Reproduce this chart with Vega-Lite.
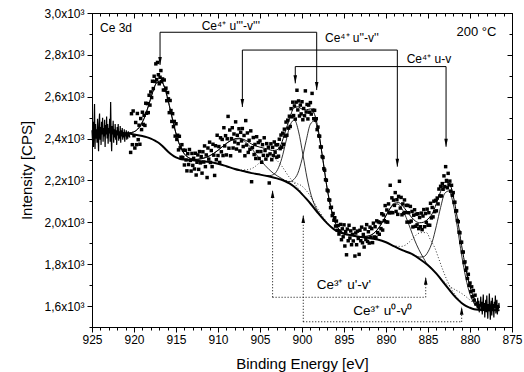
{
"$schema": "https://vega.github.io/schema/vega-lite/v6.json",
"width": 420, "height": 314,
"autosize": {"type": "none"},
"padding": {"left": 92, "top": 13, "right": 12, "bottom": 45},
"background": "white",
"datasets": {
"bg": [{"e":925,"i":2430},{"e":924,"i":2430},{"e":923,"i":2429},{"e":922,"i":2428},{"e":921,"i":2425},{"e":920,"i":2420},{"e":919,"i":2412},{"e":918.5,"i":2407},{"e":918,"i":2400},{"e":917.5,"i":2390},{"e":917,"i":2378},{"e":916.5,"i":2360},{"e":916,"i":2340},{"e":915.5,"i":2323},{"e":915,"i":2310},{"e":914.5,"i":2303},{"e":914,"i":2300},{"e":913,"i":2296},{"e":912,"i":2292},{"e":911,"i":2288},{"e":910,"i":2280},{"e":909,"i":2268},{"e":908,"i":2255},{"e":907,"i":2245},{"e":906,"i":2235},{"e":905,"i":2228},{"e":904,"i":2220},{"e":903,"i":2210},{"e":902,"i":2196},{"e":901.5,"i":2186},{"e":901,"i":2172},{"e":900.5,"i":2155},{"e":900,"i":2135},{"e":899.5,"i":2113},{"e":899,"i":2090},{"e":898,"i":2040},{"e":897,"i":1995},{"e":896.5,"i":1977},{"e":896,"i":1962},{"e":895.5,"i":1952},{"e":895,"i":1945},{"e":894,"i":1937},{"e":893,"i":1930},{"e":892,"i":1925},{"e":891,"i":1918},{"e":890,"i":1905},{"e":889,"i":1885},{"e":888,"i":1866},{"e":887,"i":1850},{"e":886,"i":1825},{"e":885,"i":1795},{"e":884,"i":1755},{"e":883,"i":1705},{"e":882,"i":1655},{"e":881.5,"i":1633},{"e":881,"i":1615},{"e":880.5,"i":1601},{"e":880,"i":1592},{"e":879.5,"i":1585},{"e":879,"i":1582},{"e":878,"i":1580},{"e":877,"i":1580},{"e":876.5,"i":1580}],
"env": [{"e":925,"i":2430},{"e":923,"i":2429},{"e":921.3,"i":2426},{"e":920.8,"i":2427},{"e":920.3,"i":2429},{"e":919.8,"i":2437},{"e":919.3,"i":2458},{"e":918.8,"i":2496},{"e":918.3,"i":2554},{"e":917.8,"i":2619},{"e":917.3,"i":2667},{"e":916.8,"i":2675},{"e":916.3,"i":2637},{"e":915.8,"i":2559},{"e":915.3,"i":2472},{"e":914.8,"i":2396},{"e":914.3,"i":2346},{"e":913.8,"i":2318},{"e":913.3,"i":2306},{"e":912.8,"i":2300},{"e":912,"i":2304},{"e":911,"i":2318},{"e":910,"i":2344},{"e":909,"i":2377},{"e":908,"i":2399},{"e":907.5,"i":2402},{"e":907,"i":2397},{"e":906.5,"i":2387},{"e":906,"i":2374},{"e":905.5,"i":2365},{"e":905,"i":2359},{"e":904.5,"i":2354},{"e":904,"i":2349},{"e":903.5,"i":2343},{"e":903,"i":2346},{"e":902.5,"i":2372},{"e":902,"i":2432},{"e":901.5,"i":2492},{"e":901,"i":2545},{"e":900.5,"i":2552},{"e":900,"i":2541},{"e":899.5,"i":2537},{"e":899,"i":2542},{"e":898.5,"i":2515},{"e":898,"i":2428},{"e":897.5,"i":2295},{"e":897,"i":2160},{"e":896.5,"i":2060},{"e":896,"i":1994},{"e":895.5,"i":1963},{"e":895,"i":1948},{"e":894.5,"i":1942},{"e":894,"i":1937},{"e":893.5,"i":1933},{"e":893,"i":1932},{"e":892.5,"i":1933},{"e":892,"i":1936},{"e":891.5,"i":1946},{"e":891,"i":1966},{"e":890.5,"i":1996},{"e":890,"i":2032},{"e":889.5,"i":2067},{"e":889,"i":2091},{"e":888.5,"i":2094},{"e":888,"i":2078},{"e":887.5,"i":2051},{"e":887,"i":2026},{"e":886.5,"i":2006},{"e":886,"i":1998},{"e":885.5,"i":2001},{"e":885,"i":2016},{"e":884.5,"i":2041},{"e":884,"i":2090},{"e":883.5,"i":2147},{"e":883,"i":2191},{"e":882.5,"i":2189},{"e":882,"i":2127},{"e":881.5,"i":2019},{"e":881,"i":1890},{"e":880.5,"i":1779},{"e":880,"i":1692},{"e":879.5,"i":1638},{"e":879,"i":1606},{"e":878.5,"i":1591},{"e":878,"i":1584},{"e":877.5,"i":1581},{"e":877,"i":1580},{"e":876.5,"i":1580}],
"c4": [
{"c":"u3","e":920.8,"i":2427},{"c":"u3","e":920.3,"i":2429},{"c":"u3","e":919.8,"i":2437},{"c":"u3","e":919.3,"i":2458},{"c":"u3","e":918.8,"i":2496},{"c":"u3","e":918.3,"i":2554},{"c":"u3","e":917.8,"i":2619},{"c":"u3","e":917.3,"i":2667},{"c":"u3","e":916.8,"i":2675},{"c":"u3","e":916.3,"i":2637},{"c":"u3","e":915.8,"i":2559},{"c":"u3","e":915.3,"i":2472},{"c":"u3","e":914.8,"i":2396},{"c":"u3","e":914.3,"i":2346},{"c":"u3","e":913.8,"i":2318},{"c":"u3","e":913.3,"i":2304},{"c":"u3","e":912.8,"i":2297},
{"c":"u2","e":913.4,"i":2300},{"c":"u2","e":912.4,"i":2301},{"c":"u2","e":911.4,"i":2310},{"c":"u2","e":910.4,"i":2332},{"c":"u2","e":909.4,"i":2364},{"c":"u2","e":908.4,"i":2392},{"c":"u2","e":907.4,"i":2399},{"c":"u2","e":906.4,"i":2371},{"c":"u2","e":905.4,"i":2322},{"c":"u2","e":904.4,"i":2272},{"c":"u2","e":903.4,"i":2234},{"c":"u2","e":902.4,"i":2209},{"c":"u2","e":901.4,"i":2184},
{"c":"u1","e":904.4,"i":2224},{"c":"u1","e":903.9,"i":2223},{"c":"u1","e":903.4,"i":2228},{"c":"u1","e":902.9,"i":2252},{"c":"u1","e":902.4,"i":2306},{"c":"u1","e":901.9,"i":2388},{"c":"u1","e":901.4,"i":2466},{"c":"u1","e":900.9,"i":2489},{"c":"u1","e":900.4,"i":2432},{"c":"u1","e":899.9,"i":2325},{"c":"u1","e":899.4,"i":2212},{"c":"u1","e":898.9,"i":2128},{"c":"u1","e":898.4,"i":2074},{"c":"u1","e":897.9,"i":2040},{"c":"u1","e":897.4,"i":2014},
{"c":"v3","e":902.5,"i":2204},{"c":"v3","e":902,"i":2199},{"c":"v3","e":901.5,"i":2194},{"c":"v3","e":901,"i":2204},{"c":"v3","e":900.5,"i":2234},{"c":"v3","e":900,"i":2301},{"c":"v3","e":899.5,"i":2391},{"c":"v3","e":899,"i":2469},{"c":"v3","e":898.5,"i":2485},{"c":"v3","e":898,"i":2419},{"c":"v3","e":897.5,"i":2296},{"c":"v3","e":897,"i":2161},{"c":"v3","e":896.5,"i":2058},{"c":"v3","e":896,"i":1994},{"c":"v3","e":895.5,"i":1963},{"c":"v3","e":895,"i":1948},{"c":"v3","e":894.5,"i":1942},
{"c":"v2","e":892.6,"i":1932},{"c":"v2","e":892.1,"i":1934},{"c":"v2","e":891.6,"i":1943},{"c":"v2","e":891.1,"i":1962},{"c":"v2","e":890.6,"i":1989},{"c":"v2","e":890.1,"i":2024},{"c":"v2","e":889.6,"i":2060},{"c":"v2","e":889.1,"i":2084},{"c":"v2","e":888.6,"i":2087},{"c":"v2","e":888.1,"i":2065},{"c":"v2","e":887.6,"i":2023},{"c":"v2","e":887.1,"i":1970},{"c":"v2","e":886.6,"i":1916},{"c":"v2","e":886.1,"i":1871},{"c":"v2","e":885.6,"i":1834},{"c":"v2","e":885.1,"i":1801},{"c":"v2","e":884.6,"i":1783},
{"c":"v1","e":886.5,"i":1841},{"c":"v1","e":886,"i":1834},{"c":"v1","e":885.5,"i":1836},{"c":"v1","e":885,"i":1859},{"c":"v1","e":884.5,"i":1906},{"c":"v1","e":884,"i":1984},{"c":"v1","e":883.5,"i":2071},{"c":"v1","e":883,"i":2139},{"c":"v1","e":882.5,"i":2150},{"c":"v1","e":882,"i":2089},{"c":"v1","e":881.5,"i":1976},{"c":"v1","e":881,"i":1844},{"c":"v1","e":880.5,"i":1734},{"c":"v1","e":880,"i":1656},{"c":"v1","e":879.5,"i":1613},{"c":"v1","e":879,"i":1591},{"c":"v1","e":878.5,"i":1584}],
"c3": [
{"c":"up","e":907.6,"i":2253},{"c":"up","e":907.1,"i":2250},{"c":"up","e":906.6,"i":2251},{"c":"up","e":906.1,"i":2255},{"c":"up","e":905.6,"i":2266},{"c":"up","e":905.1,"i":2283},{"c":"up","e":904.6,"i":2299},{"c":"up","e":904.1,"i":2310},{"c":"up","e":903.6,"i":2311},{"c":"up","e":903.1,"i":2300},{"c":"up","e":902.6,"i":2279},{"c":"up","e":902.1,"i":2251},{"c":"up","e":901.6,"i":2220},{"c":"up","e":901.1,"i":2196},{"c":"up","e":900.6,"i":2171},{"c":"up","e":900.1,"i":2143},{"c":"up","e":899.6,"i":2119},
{"c":"u0","e":902.6,"i":2207},{"c":"u0","e":902.1,"i":2202},{"c":"u0","e":901.6,"i":2196},{"c":"u0","e":901.1,"i":2194},{"c":"u0","e":900.6,"i":2185},{"c":"u0","e":900.1,"i":2176},{"c":"u0","e":899.6,"i":2157},{"c":"u0","e":899.1,"i":2131},{"c":"u0","e":898.6,"i":2098},{"c":"u0","e":898.1,"i":2063},{"c":"u0","e":897.6,"i":2032},{"c":"u0","e":897.1,"i":2004},{"c":"u0","e":896.6,"i":1983},
{"c":"vp","e":889.2,"i":1889},{"c":"vp","e":888.7,"i":1886},{"c":"vp","e":888.2,"i":1885},{"c":"vp","e":887.7,"i":1891},{"c":"vp","e":887.2,"i":1907},{"c":"vp","e":886.7,"i":1927},{"c":"vp","e":886.2,"i":1946},{"c":"vp","e":885.7,"i":1951},{"c":"vp","e":885.2,"i":1951},{"c":"vp","e":884.7,"i":1916},{"c":"vp","e":884.2,"i":1879},{"c":"vp","e":883.7,"i":1824},{"c":"vp","e":883.2,"i":1769},{"c":"vp","e":882.7,"i":1720},{"c":"vp","e":882.2,"i":1680},{"c":"vp","e":881.7,"i":1650},{"c":"vp","e":881.2,"i":1626},
{"c":"v0","e":883.8,"i":1747},{"c":"v0","e":883.3,"i":1725},{"c":"v0","e":882.8,"i":1706},{"c":"v0","e":882.3,"i":1691},{"c":"v0","e":881.8,"i":1679},{"c":"v0","e":881.3,"i":1668},{"c":"v0","e":880.8,"i":1655},{"c":"v0","e":880.3,"i":1639},{"c":"v0","e":879.8,"i":1622},{"c":"v0","e":879.3,"i":1606},{"c":"v0","e":878.8,"i":1593},{"c":"v0","e":878.3,"i":1586},{"c":"v0","e":877.8,"i":1582}],
"jag": [
{"s":"L","e":925,"i":2440},{"s":"L","e":924.94,"i":2390},{"s":"L","e":924.88,"i":2480},{"s":"L","e":924.82,"i":2360},{"s":"L","e":924.76,"i":2455},{"s":"L","e":924.7,"i":2565},{"s":"L","e":924.64,"i":2350},{"s":"L","e":924.58,"i":2470},{"s":"L","e":924.52,"i":2400},{"s":"L","e":924.46,"i":2445},{"s":"L","e":924.4,"i":2380},{"s":"L","e":924.34,"i":2495},{"s":"L","e":924.28,"i":2410},{"s":"L","e":924.22,"i":2340},{"s":"L","e":924.16,"i":2470},{"s":"L","e":924.1,"i":2520},{"s":"L","e":924.04,"i":2395},{"s":"L","e":923.98,"i":2455},{"s":"L","e":923.92,"i":2370},{"s":"L","e":923.86,"i":2480},{"s":"L","e":923.8,"i":2420},{"s":"L","e":923.74,"i":2500},{"s":"L","e":923.68,"i":2385},{"s":"L","e":923.62,"i":2450},{"s":"L","e":923.56,"i":2410},{"s":"L","e":923.5,"i":2490},{"s":"L","e":923.44,"i":2360},{"s":"L","e":923.38,"i":2465},{"s":"L","e":923.32,"i":2420},{"s":"L","e":923.26,"i":2505},{"s":"L","e":923.2,"i":2400},{"s":"L","e":923.14,"i":2470},{"s":"L","e":923.08,"i":2375},{"s":"L","e":923.02,"i":2450},{"s":"L","e":922.96,"i":2430},{"s":"L","e":922.9,"i":2495},{"s":"L","e":922.84,"i":2385},{"s":"L","e":922.78,"i":2575},{"s":"L","e":922.72,"i":2410},{"s":"L","e":922.66,"i":2340},{"s":"L","e":922.6,"i":2460},{"s":"L","e":922.54,"i":2420},{"s":"L","e":922.48,"i":2485},{"s":"L","e":922.42,"i":2380},{"s":"L","e":922.36,"i":2445},{"s":"L","e":922.3,"i":2405},{"s":"L","e":922.24,"i":2470},{"s":"L","e":922.18,"i":2395},{"s":"L","e":922.12,"i":2440},{"s":"L","e":922.06,"i":2370},{"s":"L","e":922,"i":2455},{"s":"L","e":921.94,"i":2415},{"s":"L","e":921.88,"i":2470},{"s":"L","e":921.82,"i":2390},{"s":"L","e":921.76,"i":2435},{"s":"L","e":921.7,"i":2400},{"s":"L","e":921.64,"i":2460},{"s":"L","e":921.58,"i":2380},{"s":"L","e":921.52,"i":2440},{"s":"L","e":921.46,"i":2410},{"s":"L","e":921.4,"i":2450},{"s":"L","e":921.34,"i":2395},{"s":"L","e":921.28,"i":2430},{"s":"L","e":921.22,"i":2405},{"s":"L","e":921.16,"i":2445},{"s":"L","e":921.1,"i":2385},{"s":"L","e":921.04,"i":2425},{"s":"L","e":920.98,"i":2410},{"s":"L","e":920.92,"i":2440},{"s":"L","e":920.86,"i":2395},{"s":"L","e":920.8,"i":2425},{"s":"L","e":920.74,"i":2400},{"s":"L","e":920.68,"i":2435},{"s":"L","e":920.62,"i":2410},{"s":"L","e":920.56,"i":2420},{"s":"L","e":920.5,"i":2405},
{"s":"R","e":879.2,"i":1618},{"s":"R","e":879.14,"i":1590},{"s":"R","e":879.08,"i":1640},{"s":"R","e":879.02,"i":1585},{"s":"R","e":878.96,"i":1625},{"s":"R","e":878.9,"i":1570},{"s":"R","e":878.84,"i":1610},{"s":"R","e":878.78,"i":1598},{"s":"R","e":878.72,"i":1645},{"s":"R","e":878.66,"i":1575},{"s":"R","e":878.6,"i":1620},{"s":"R","e":878.54,"i":1560},{"s":"R","e":878.48,"i":1600},{"s":"R","e":878.42,"i":1655},{"s":"R","e":878.36,"i":1580},{"s":"R","e":878.3,"i":1615},{"s":"R","e":878.24,"i":1545},{"s":"R","e":878.18,"i":1605},{"s":"R","e":878.12,"i":1630},{"s":"R","e":878.06,"i":1570},{"s":"R","e":878,"i":1650},{"s":"R","e":877.94,"i":1585},{"s":"R","e":877.88,"i":1540},{"s":"R","e":877.82,"i":1610},{"s":"R","e":877.76,"i":1575},{"s":"R","e":877.7,"i":1660},{"s":"R","e":877.64,"i":1595},{"s":"R","e":877.58,"i":1535},{"s":"R","e":877.52,"i":1600},{"s":"R","e":877.46,"i":1625},{"s":"R","e":877.4,"i":1555},{"s":"R","e":877.34,"i":1640},{"s":"R","e":877.28,"i":1580},{"s":"R","e":877.22,"i":1610},{"s":"R","e":877.16,"i":1545},{"s":"R","e":877.1,"i":1620},{"s":"R","e":877.04,"i":1590},{"s":"R","e":876.98,"i":1650},{"s":"R","e":876.92,"i":1565},{"s":"R","e":876.86,"i":1600},{"s":"R","e":876.8,"i":1630},{"s":"R","e":876.74,"i":1560},{"s":"R","e":876.68,"i":1605},{"s":"R","e":876.62,"i":1585},{"s":"R","e":876.56,"i":1615},{"s":"R","e":876.5,"i":1590}],
"pts": [
{"e":920.4,"i":2334},{"e":920.3,"i":2519},{"e":920.2,"i":2371},{"e":920.1,"i":2532},{"e":920.0,"i":2414},{"e":919.9,"i":2355},{"e":919.8,"i":2477},{"e":919.7,"i":2371},{"e":919.6,"i":2520},{"e":919.5,"i":2395},{"e":919.4,"i":2464},{"e":919.3,"i":2373},{"e":919.2,"i":2496},{"e":919.1,"i":2443},{"e":919.0,"i":2526},{"e":918.9,"i":2468},{"e":918.8,"i":2511},{"e":918.7,"i":2463},{"e":918.6,"i":2569},{"e":918.5,"i":2521},{"e":918.4,"i":2567},{"e":918.3,"i":2524},{"e":918.2,"i":2607},{"e":918.1,"i":2560},{"e":918.0,"i":2623},{"e":917.9,"i":2596},{"e":917.8,"i":2674},{"e":917.7,"i":2639},{"e":917.6,"i":2698},{"e":917.5,"i":2673},{"e":917.4,"i":2757},{"e":917.3,"i":2682},{"e":917.2,"i":2764},{"e":917.1,"i":2705},{"e":917.0,"i":2662},{"e":916.9,"i":2693},{"e":916.8,"i":2725},{"e":916.7,"i":2672},{"e":916.6,"i":2685},{"e":916.5,"i":2632},{"e":916.4,"i":2680},{"e":916.3,"i":2632},{"e":916.2,"i":2641},{"e":916.1,"i":2581},{"e":916.0,"i":2620},{"e":915.9,"i":2590},{"e":915.8,"i":2524},{"e":915.7,"i":2582},{"e":915.6,"i":2534},{"e":915.5,"i":2482},{"e":915.4,"i":2519},{"e":915.3,"i":2457},{"e":915.2,"i":2482},{"e":915.1,"i":2412},{"e":915.0,"i":2471},{"e":914.9,"i":2396},{"e":914.8,"i":2416},{"e":914.7,"i":2346},{"e":914.6,"i":2411},{"e":914.5,"i":2356},{"e":914.4,"i":2311},{"e":914.3,"i":2371},{"e":914.2,"i":2310},{"e":914.1,"i":2345},{"e":914.0,"i":2274},{"e":913.9,"i":2344},{"e":913.8,"i":2298},{"e":913.7,"i":2246},{"e":913.6,"i":2328},{"e":913.5,"i":2276},{"e":913.4,"i":2348},{"e":913.3,"i":2296},{"e":913.2,"i":2245},{"e":913.1,"i":2329},{"e":913.0,"i":2272},{"e":912.9,"i":2306},{"e":912.8,"i":2255},{"e":912.7,"i":2330},{"e":912.6,"i":2226},{"e":912.5,"i":2287},{"e":912.4,"i":2322},{"e":912.3,"i":2253},{"e":912.2,"i":2338},{"e":912.1,"i":2284},{"e":912.0,"i":2314},
{"e":911.9,"i":2235},{"e":911.8,"i":2337},{"e":911.7,"i":2288},{"e":911.6,"i":2365},{"e":911.5,"i":2266},{"e":911.4,"i":2322},{"e":911.3,"i":2214},{"e":911.2,"i":2355},{"e":911.1,"i":2302},{"e":911.0,"i":2383},{"e":910.9,"i":2286},{"e":910.8,"i":2343},{"e":910.7,"i":2266},{"e":910.6,"i":2373},{"e":910.5,"i":2321},{"e":910.4,"i":2224},{"e":910.3,"i":2366},{"e":910.2,"i":2299},{"e":910.1,"i":2416},{"e":910.0,"i":2319},{"e":909.9,"i":2362},{"e":909.8,"i":2286},{"e":909.7,"i":2404},{"e":909.6,"i":2337},{"e":909.5,"i":2396},{"e":909.4,"i":2319},{"e":909.3,"i":2452},{"e":909.2,"i":2365},{"e":909.1,"i":2414},{"e":909.0,"i":2322},{"e":908.9,"i":2399},{"e":908.8,"i":2506},{"e":908.7,"i":2354},{"e":908.6,"i":2441},{"e":908.5,"i":2318},{"e":908.4,"i":2400},{"e":908.3,"i":2452},{"e":908.2,"i":2355},{"e":908.1,"i":2422},{"e":908.0,"i":2384},{"e":907.9,"i":2480},{"e":907.8,"i":2350},{"e":907.7,"i":2416},{"e":907.6,"i":2376},{"e":907.5,"i":2447},{"e":907.4,"i":2341},{"e":907.3,"i":2430},{"e":907.2,"i":2389},{"e":907.1,"i":2448},{"e":907.0,"i":2362},{"e":906.9,"i":2415},{"e":906.8,"i":2318},{"e":906.7,"i":2486},{"e":906.6,"i":2369},{"e":906.5,"i":2427},{"e":906.4,"i":2334},{"e":906.3,"i":2392},{"e":906.2,"i":2349},{"e":906.1,"i":2437},{"e":906.0,"i":2194},{"e":905.9,"i":2357},{"e":905.8,"i":2405},{"e":905.7,"i":2324},{"e":905.6,"i":2372},{"e":905.5,"i":2305},{"e":905.4,"i":2409},{"e":905.3,"i":2338},{"e":905.2,"i":2381},{"e":905.1,"i":2305},{"e":905.0,"i":2389},{"e":904.9,"i":2338},{"e":904.8,"i":2287},{"e":904.7,"i":2371},{"e":904.6,"i":2320},{"e":904.5,"i":2404},{"e":904.4,"i":2343},{"e":904.3,"i":2302},{"e":904.2,"i":2376},{"e":904.1,"i":2320},{"e":904.0,"i":2359},{"e":903.9,"i":2188},{"e":903.8,"i":2327},{"e":903.7,"i":2375},{"e":903.6,"i":2299},{"e":903.5,"i":2358},{"e":903.4,"i":2319},{"e":903.3,"i":2384},{"e":903.2,"i":2335},{"e":903.1,"i":2370},{"e":903.0,"i":2311},
{"e":902.9,"i":2371},{"e":902.8,"i":2316},{"e":902.7,"i":2397},{"e":902.6,"i":2352},{"e":902.5,"i":2417},{"e":902.4,"i":2359},{"e":902.3,"i":2426},{"e":902.2,"i":2373},{"e":902.1,"i":2445},{"e":902.0,"i":2412},{"e":901.9,"i":2479},{"e":901.8,"i":2416},{"e":901.7,"i":2488},{"e":901.6,"i":2450},{"e":901.5,"i":2507},{"e":901.4,"i":2458},{"e":901.3,"i":2543},{"e":901.2,"i":2504},{"e":901.1,"i":2574},{"e":901.0,"i":2510},{"e":900.9,"i":2556},{"e":900.8,"i":2493},{"e":900.7,"i":2574},{"e":900.6,"i":2631},{"e":900.5,"i":2537},{"e":900.4,"i":2580},{"e":900.3,"i":2508},{"e":900.2,"i":2560},{"e":900.1,"i":2518},{"e":900.0,"i":2576},{"e":899.9,"i":2490},{"e":899.8,"i":2544},{"e":899.7,"i":2509},{"e":899.6,"i":2628},{"e":899.5,"i":2527},{"e":899.4,"i":2563},{"e":899.3,"i":2494},{"e":899.2,"i":2560},{"e":899.1,"i":2526},{"e":899.0,"i":2572},{"e":898.9,"i":2517},{"e":898.8,"i":2616},{"e":898.7,"i":2536},{"e":898.6,"i":2495},{"e":898.5,"i":2535},{"e":898.4,"i":2488},{"e":898.3,"i":2495},{"e":898.2,"i":2443},{"e":898.1,"i":2455},{"e":898.0,"i":2413},
{"e":897.9,"i":2411},{"e":897.8,"i":2360},{"e":897.7,"i":2360},{"e":897.6,"i":2314},{"e":897.5,"i":2310},{"e":897.4,"i":2256},{"e":897.3,"i":2249},{"e":897.2,"i":2204},{"e":897.1,"i":2201},{"e":897.0,"i":2154},{"e":896.9,"i":2150},{"e":896.8,"i":2108},{"e":896.7,"i":2106},{"e":896.6,"i":2070},{"e":896.5,"i":2072},{"e":896.4,"i":2032},{"e":896.3,"i":2042},{"e":896.2,"i":2010},{"e":896.1,"i":2022},{"e":896.0,"i":1982},{"e":895.9,"i":2006},{"e":895.8,"i":1962},{"e":895.7,"i":1985},{"e":895.6,"i":1944},
{"e":895.5,"i":1958},{"e":895.4,"i":1990},{"e":895.3,"i":1917},{"e":895.2,"i":1969},{"e":895.1,"i":1931},{"e":895.0,"i":1988},{"e":894.9,"i":1887},{"e":894.8,"i":1956},{"e":894.7,"i":1845},{"e":894.6,"i":1968},{"e":894.5,"i":1912},{"e":894.4,"i":1986},{"e":894.3,"i":1925},{"e":894.2,"i":1959},{"e":894.1,"i":1893},{"e":894.0,"i":1942},{"e":893.9,"i":1911},{"e":893.8,"i":1970},{"e":893.7,"i":1839},{"e":893.6,"i":1949},{"e":893.5,"i":1893},{"e":893.4,"i":1958},{"e":893.3,"i":1923},{"e":893.2,"i":1847},{"e":893.1,"i":1962},{"e":893.0,"i":1912},{"e":892.9,"i":1977},{"e":892.8,"i":1902},{"e":892.7,"i":1942},{"e":892.6,"i":1882},{"e":892.5,"i":1968},{"e":892.4,"i":1918},{"e":892.3,"i":1989},{"e":892.2,"i":1909},{"e":892.1,"i":1955},{"e":892.0,"i":1901},{"e":891.9,"i":1977},{"e":891.8,"i":1928},{"e":891.7,"i":1970},{"e":891.6,"i":1903},{"e":891.5,"i":1996},{"e":891.4,"i":1930},{"e":891.3,"i":1979},{"e":891.2,"i":1928},{"e":891.1,"i":2007},{"e":891.0,"i":1951},
{"e":890.9,"i":2002},{"e":890.8,"i":1943},{"e":890.7,"i":1999},{"e":890.6,"i":1970},{"e":890.5,"i":2041},{"e":890.4,"i":1963},{"e":890.3,"i":2035},{"e":890.2,"i":2008},{"e":890.1,"i":2080},{"e":890.0,"i":2002},{"e":889.9,"i":2059},{"e":889.8,"i":2001},{"e":889.7,"i":2088},{"e":889.6,"i":2045},{"e":889.5,"i":2177},{"e":889.4,"i":2047},{"e":889.3,"i":2117},{"e":889.2,"i":2046},{"e":889.1,"i":2106},{"e":889.0,"i":2081},{"e":888.9,"i":2142},{"e":888.8,"i":2052},{"e":888.7,"i":2108},{"e":888.6,"i":2038},{"e":888.5,"i":2124},{"e":888.4,"i":2196},{"e":888.3,"i":2068},{"e":888.2,"i":2119},{"e":888.1,"i":2036},{"e":888.0,"i":2088},{"e":887.9,"i":2043},{"e":887.8,"i":2107},{"e":887.7,"i":2047},{"e":887.6,"i":2081},{"e":887.5,"i":2001},{"e":887.4,"i":2081},{"e":887.3,"i":2046},{"e":887.2,"i":2001},{"e":887.1,"i":2076},{"e":887.0,"i":2006},{"e":886.9,"i":2052},{"e":886.8,"i":1978},{"e":886.7,"i":2034},{"e":886.6,"i":2060},{"e":886.5,"i":1981},{"e":886.4,"i":2039},{"e":886.3,"i":1988},{"e":886.2,"i":2041},{"e":886.1,"i":1970},{"e":886.0,"i":2023},
{"e":885.9,"i":1979},{"e":885.8,"i":2044},{"e":885.7,"i":1965},{"e":885.6,"i":2030},{"e":885.5,"i":2061},{"e":885.4,"i":1979},{"e":885.3,"i":2042},{"e":885.2,"i":2000},{"e":885.1,"i":2063},{"e":885.0,"i":1986},{"e":884.9,"i":2046},{"e":884.8,"i":1986},{"e":884.7,"i":2091},{"e":884.6,"i":2021},{"e":884.5,"i":2071},{"e":884.4,"i":2026},{"e":884.3,"i":2101},{"e":884.2,"i":2051},{"e":884.1,"i":2105},{"e":884.0,"i":2055},{"e":883.9,"i":2116},{"e":883.8,"i":2088},{"e":883.7,"i":2159},{"e":883.6,"i":2126},{"e":883.5,"i":2172},{"e":883.4,"i":2126},{"e":883.3,"i":2185},{"e":883.2,"i":2158},{"e":883.1,"i":2222},{"e":883.0,"i":2171},{"e":882.9,"i":2266},{"e":882.8,"i":2200},{"e":882.7,"i":2165},{"e":882.6,"i":2234},{"e":882.5,"i":2179},{"e":882.4,"i":2197},{"e":882.3,"i":2149},{"e":882.2,"i":2177},{"e":882.1,"i":2129},{"e":882.0,"i":2142},
{"e":881.9,"i":2095},{"e":881.8,"i":2096},{"e":881.7,"i":2054},{"e":881.6,"i":2055},{"e":881.5,"i":2009},{"e":881.4,"i":2003},{"e":881.3,"i":1953},{"e":881.2,"i":1950},{"e":881.1,"i":1904},{"e":881.0,"i":1905},{"e":880.9,"i":1858},{"e":880.8,"i":1858},{"e":880.7,"i":1808},{"e":880.6,"i":1811},{"e":880.5,"i":1771},{"e":880.4,"i":1782},{"e":880.3,"i":1732},{"e":880.2,"i":1752},{"e":880.1,"i":1699},{"e":880.0,"i":1710},{"e":879.9,"i":1669},{"e":879.8,"i":1692},{"e":879.7,"i":1645},{"e":879.6,"i":1674},{"e":879.5,"i":1628},{"e":879.4,"i":1652},{"e":879.3,"i":1610}],
"seg4": [{"e":916.9,"i":2908,"e2":898.25,"i2":2908},{"e":916.9,"i":2908,"e2":916.9,"i2":2752},{"e":898.25,"i":2908,"e2":898.25,"i2":2632},{"e":907.1,"i":2823,"e2":888.65,"i2":2823},{"e":907.1,"i":2823,"e2":907.1,"i2":2551},{"e":888.65,"i":2823,"e2":888.65,"i2":2266},{"e":900.8,"i":2744,"e2":882.85,"i2":2744},{"e":900.8,"i":2744,"e2":900.8,"i2":2664},{"e":882.85,"i":2744,"e2":882.85,"i2":2361}],
"seg3": [{"e":903.5,"i":1642,"e2":885.27,"i2":1642},{"e":903.5,"i":1642,"e2":903.5,"i2":2154},{"e":885.27,"i":1642,"e2":885.27,"i2":1740},{"e":899.85,"i":1525,"e2":880.99,"i2":1525},{"e":899.85,"i":1525,"e2":899.85,"i2":2035},{"e":880.99,"i":1525,"e2":880.99,"i2":1597}],
"hdown": [{"e":916.9,"i":2752},{"e":898.25,"i":2632},{"e":907.1,"i":2551},{"e":888.65,"i":2266},{"e":900.8,"i":2664},{"e":882.85,"i":2361}],
"hup": [{"e":903.5,"i":2154},{"e":885.27,"i":1740},{"e":899.85,"i":2035},{"e":880.99,"i":1597}],
"txt": [{"e":924.05,"i":2908,"t":"Ce 3d","fs":12},{"e":911.94,"i":2918,"t":"Ce⁴⁺ u'''-v'''","fs":12},{"e":897.26,"i":2860,"t":"Ce⁴⁺ u''-v''","fs":12},{"e":887.54,"i":2759,"t":"Ce⁴⁺ u-v","fs":12},{"e":881.6,"i":2888,"t":"200 °C","fs":13},{"e":898.25,"i":1681,"t":"Ce³⁺ u'-v'","fs":13.5},{"e":893.9,"i":1557,"t":"Ce³⁺ u⁰-v⁰","fs":13.5}]
},
"encoding": {
"x": {"field": "e", "type": "quantitative", "scale": {"domain": [875, 925], "reverse": true, "nice": false, "zero": false}, "axis": null},
"y": {"field": "i", "type": "quantitative", "scale": {"domain": [1500, 3000], "nice": false, "zero": false}, "axis": null}
},
"layer": [
{"data": {"name": "c3"}, "mark": {"type": "line", "interpolate": "monotone", "color": "black", "strokeWidth": 0.8, "strokeDash": [1, 2]}, "encoding": {"detail": {"field": "c"}}},
{"data": {"name": "c4"}, "mark": {"type": "line", "interpolate": "monotone", "color": "black", "strokeWidth": 0.8}, "encoding": {"detail": {"field": "c"}}},
{"data": {"name": "env"}, "mark": {"type": "line", "interpolate": "monotone", "color": "black", "strokeWidth": 1}, "encoding": {}},
{"data": {"name": "bg"}, "mark": {"type": "line", "interpolate": "monotone", "color": "black", "strokeWidth": 2}, "encoding": {
"x": {"field": "e", "type": "quantitative", "scale": {"domain": [875, 925], "reverse": true, "nice": false, "zero": false}, "axis": {"orient": "top", "labels": false, "title": null, "values": [875,876,877,878,879,880,881,882,883,884,885,886,887,888,889,890,891,892,893,894,895,896,897,898,899,900,901,902,903,904,905,906,907,908,909,910,911,912,913,914,915,916,917,918,919,920,921,922,923,924,925], "tickSize": {"condition": {"test": "datum.value % 5 === 0", "value": -5}, "value": -3}}},
"y": {"field": "i", "type": "quantitative", "scale": {"domain": [1500, 3000], "nice": false, "zero": false}, "axis": {"orient": "right", "labels": false, "title": null, "values": [1500,1600,1700,1800,1900,2000,2100,2200,2300,2400,2500,2600,2700,2800,2900,3000], "tickSize": {"condition": {"test": "datum.value % 200 === 0", "value": -5}, "value": -3}}}
}},
{"data": {"name": "pts"}, "mark": {"type": "point", "shape": "square", "filled": true, "size": 12, "color": "black", "opacity": 1}, "encoding": {
"x": {"field": "e", "type": "quantitative", "scale": {"domain": [875, 925], "reverse": true, "nice": false, "zero": false}, "axis": {"orient": "bottom", "values": [875,876,877,878,879,880,881,882,883,884,885,886,887,888,889,890,891,892,893,894,895,896,897,898,899,900,901,902,903,904,905,906,907,908,909,910,911,912,913,914,915,916,917,918,919,920,921,922,923,924,925], "labelExpr": "datum.value % 5 === 0 ? datum.label : ''", "tickSize": {"condition": {"test": "datum.value % 5 === 0", "value": 5}, "value": 3}, "labelPadding": 2, "labelOverlap": false, "labelFlush": false, "title": "Binding Energy [eV]", "titleY": 36, "titleBaseline": "middle"}},
"y": {"field": "i", "type": "quantitative", "scale": {"domain": [1500, 3000], "nice": false, "zero": false}, "axis": {"orient": "left", "values": [1500,1600,1700,1800,1900,2000,2100,2200,2300,2400,2500,2600,2700,2800,2900,3000], "labelExpr": "datum.value % 200 === 0 ? replace(format(datum.value / 1000, '.1f'), '.', ',') + 'x10³' : ''", "tickSize": {"condition": {"test": "datum.value % 200 === 0", "value": 5}, "value": 3}, "labelPadding": 3, "labelOverlap": false, "labelFlush": false, "title": "Intensity [CPS]", "titleX": -66, "titleBaseline": "middle"}}
}},
{"data": {"name": "jag"}, "mark": {"type": "line", "color": "black", "strokeWidth": 1.2}, "encoding": {"detail": {"field": "s"}}},
{"data": {"name": "seg4"}, "mark": {"type": "rule", "color": "black", "strokeWidth": 1}, "encoding": {"x2": {"field": "e2"}, "y2": {"field": "i2"}}},
{"data": {"name": "seg3"}, "mark": {"type": "rule", "color": "black", "strokeWidth": 1, "strokeDash": [1, 2]}, "encoding": {"x2": {"field": "e2"}, "y2": {"field": "i2"}}},
{"data": {"name": "hdown"}, "mark": {"type": "point", "shape": "M0,0L-0.45,-2L0.45,-2Z", "size": 64, "filled": true, "color": "black", "opacity": 1}},
{"data": {"name": "hup"}, "mark": {"type": "point", "shape": "M0,0L-0.45,2L0.45,2Z", "size": 64, "filled": true, "color": "black", "opacity": 1}},
{"data": {"name": "txt"}, "mark": {"type": "text", "align": "left", "baseline": "alphabetic", "font": "Liberation Sans", "color": "black"}, "encoding": {"text": {"field": "t"}, "size": {"field": "fs", "type": "quantitative", "scale": null}}}
],
"resolve": {"axis": {"x": "independent", "y": "independent"}},
"config": {
"view": {"stroke": "black", "strokeWidth": 1},
"axis": {"grid": false, "labelFont": "Liberation Sans", "titleFont": "Liberation Sans", "labelFontSize": 12, "titleFontSize": 15, "titleFontWeight": "normal", "labelColor": "black", "titleColor": "black", "domainColor": "black", "tickColor": "black", "tickWidth": 1, "domainWidth": 1}
}
}
